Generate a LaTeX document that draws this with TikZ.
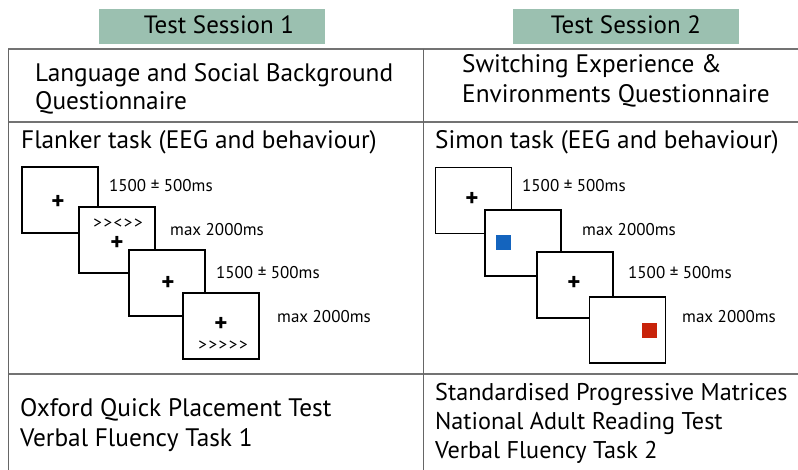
\documentclass[tikz,border=0pt]{standalone}
\usepackage{fontspec}
\setmainfont{PT Sans}
\begin{document}
\begin{tikzpicture}[x=1pt,y=-1pt,
  rule/.style={draw=black!55,line width=1.3pt},
  vrule/.style={draw=black!60,line width=1pt},
  session/.style={fill=sessiongreen,minimum width=226pt,minimum height=35pt,inner sep=0pt},
  sessiontext/.style={inner sep=0pt,anchor=base,font=\fontsize{25}{28}\selectfont},
  big/.style={anchor=base west,inner sep=0pt,font=\fontsize{25.3}{30}\selectfont},
  bigright/.style={big,font=\fontsize{24.2}{29}\selectfont},
  screen/.style={draw=black,line width=1.3pt,fill=white,minimum width=76pt,minimum height=66pt,inner sep=0pt},
  timing/.style={anchor=west,inner sep=0pt,font=\fontsize{17}{20}\selectfont},
  fix/.style={inner sep=0pt,font=\fontsize{25}{25}\bfseries},
  chevrons/.style={inner sep=0pt,font=\fontsize{17}{18}\selectfont},
  patch/.style={minimum size=15pt,inner sep=0pt}]
\definecolor{sessiongreen}{RGB}{155,192,176}
\definecolor{stimblue}{RGB}{20,100,190}
\definecolor{stimred}{RGB}{200,35,10}
\newcommand{\gap}{\kern1.6pt}
\useasboundingbox (0,0) rectangle (798,470);

% session headers
\node[session] (s1) at (212,26.5) {};
\node[sessiontext] (s1t) at (219,34) {Test Session 1};
\node[session] (s2) at (626,26.5) {};
\node[sessiontext] (s2t) at (626,34) {Test Session 2};

% table rules
\coordinate (tl) at (8,49);
\coordinate (tr) at (798,49);
\coordinate (ml) at (8,122);
\coordinate (mr) at (798,122);
\coordinate (bl) at (8,374);
\coordinate (br) at (798,374);
\coordinate (leftbot) at (8,470);
\coordinate (midtop) at (423,49);
\coordinate (midbot) at (423,470);
\draw[rule] (tl) -- (tr);
\draw[rule] (ml) -- (mr);
\draw[rule] (bl) -- (br);
\draw[vrule] (tl) -- (leftbot);
\draw[vrule] (midtop) -- (midbot);

% questionnaires
\node[big] (q1a) at (35,82) {Language and Social Background};
\node[big] (q1b) at (35,110) {Questionnaire};
\node[big] (q2a) at (462,73) {Switching Experience \&};
\node[big] (q2b) at (462,103) {Environments Questionnaire};

% task titles
\node[big] (t1) at (21,149) {Flanker task (EEG and behaviour)};
\node[big] (t2) at (435,149) {Simon task (EEG and behaviour)};

% flanker trial sequence
\node[screen] (f1) at (60,200) {};
\node[screen] (f2) at (117,240) {};
\node[screen] (f3) at (167,283) {};
\node[screen] (f4) at (221,326) {};
\node[fix] (f1p) at (58,202) {+};
\node[chevrons] (f2a) at (118,224) {>\gap>\gap<\gap>\gap>};
\node[fix] (f2p) at (117,243) {+};
\node[fix] (f3p) at (168,283) {+};
\node[fix] (f4p) at (221,324) {+};
\node[chevrons] (f4a) at (223,346) {>\gap>\gap>\gap>\gap>};
\node[timing] (f1l) at (109,186) {1500 ± 500ms};
\node[timing] (f2l) at (170,230) {max 2000ms};
\node[timing] (f3l) at (216,273) {1500 ± 500ms};
\node[timing] (f4l) at (277,317) {max 2000ms};

% simon trial sequence
\node[screen] (m1) at (473.5,200.5) {};
\node[screen] (m2) at (523,243) {};
\node[screen] (m3) at (575,285) {};
\node[screen] (m4) at (627.5,330) {};
\node[fix] (m1p) at (472,199) {+};
\node[patch,fill=stimblue] (m2s) at (503,242.5) {};
\node[fix] (m3p) at (574,283) {+};
\node[patch,fill=stimred] (m4s) at (649.5,330.5) {};
\node[timing] (m1l) at (522,186) {1500 ± 500ms};
\node[timing] (m2l) at (582,230) {max 2000ms};
\node[timing] (m3l) at (628,273) {1500 ± 500ms};
\node[timing] (m4l) at (682,317) {max 2000ms};

% remaining measures
\node[big] (b1a) at (20,416) {Oxford Quick Placement Test};
\node[big] (b1b) at (20,446) {Verbal Fluency Task 1};
\node[bigright] (b2a) at (435,400) {Standardised Progressive Matrices};
\node[bigright] (b2b) at (435,429) {National Adult Reading Test};
\node[bigright] (b2c) at (435,458) {Verbal Fluency Task 2};
\end{tikzpicture}
\end{document}
